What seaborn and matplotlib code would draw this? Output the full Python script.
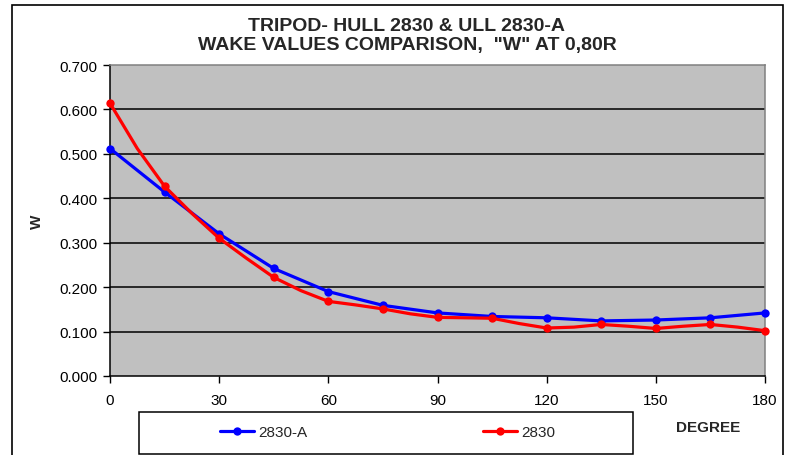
import matplotlib.pyplot as plt
import matplotlib.patches as mpatches
import pandas as pd
import seaborn as sns

sns.set_theme(style="white")
plt.rcParams["font.family"] = ["Liberation Sans", "DejaVu Sans"]

# valores
BLUE_DEG = [0, 15, 30, 45, 60, 75, 90, 105, 120, 135, 150, 165, 180]
BLUE_W = [0.512, 0.414, 0.320, 0.242, 0.190, 0.159, 0.142, 0.134, 0.131, 0.124, 0.126, 0.131, 0.142]

RED_DEG = [0, 7.5, 15, 22.5, 30, 37.5, 45, 52.5, 60, 67.5, 75, 82.5, 90,
           97.5, 105, 112.5, 120, 127.5, 135, 142.5, 150, 157.5, 165, 172.5, 180]
RED_W = [0.614, 0.512, 0.427, 0.366, 0.310, 0.265, 0.222, 0.192, 0.168, 0.160, 0.151, 0.140, 0.132,
         0.131, 0.130, 0.118, 0.108, 0.110, 0.116, 0.112, 0.107, 0.112, 0.116, 0.110, 0.102]

X_TICKS = [0, 30, 60, 90, 120, 150, 180]
Y_TICKS = [0.0, 0.1, 0.2, 0.3, 0.4, 0.5, 0.6, 0.7]

df_blue = pd.DataFrame({"degree": BLUE_DEG, "w": BLUE_W})
df_red = pd.DataFrame({"degree": RED_DEG, "w": RED_W})

fig = plt.figure(figsize=(7.9, 4.56), dpi=100)
ax = fig.add_axes([110 / 790, 1 - 377 / 456, 655 / 790, 311 / 456])
ax.set_facecolor("#C0C0C0")

# moldura externa do gráfico
fig.patches.append(mpatches.Rectangle((12 / 790, -0.05), 771 / 790, 1.05 - 6 / 456,
                                      transform=fig.transFigure, fill=False,
                                      edgecolor="black", linewidth=1.2))

for y in Y_TICKS[1:-1]:
    ax.axhline(y, color="black", linewidth=1.1, zorder=1)

sns.lineplot(data=df_blue, x="degree", y="w", ax=ax, color="#0000FF", linewidth=2.3,
             marker="o", markersize=6, markeredgewidth=0, label="2830-A",
             clip_on=False, zorder=3)
sns.lineplot(data=df_red, x="degree", y="w", ax=ax, color="#FF0000", linewidth=2.3,
             marker="o", markersize=6, markeredgewidth=0, markevery=2, label="2830",
             clip_on=False, zorder=4)

ax.set_xlim(0, 180)
ax.set_ylim(0, 0.7)
ax.set_xticks(X_TICKS)
ax.set_yticks(Y_TICKS)
ax.set_yticklabels([f"{v:.3f}" for v in Y_TICKS])
ax.set_xlabel("")
ax.set_ylabel("")
ax.tick_params(axis="both", direction="out", length=5, width=1, color="black",
               labelsize=11, labelcolor="black", left=True, bottom=True)
ax.tick_params(axis="y", pad=4)
ax.tick_params(axis="x", pad=7)
for side in ["left", "bottom"]:
    ax.spines[side].set_color("black")
    ax.spines[side].set_linewidth(1.1)
for side in ["top", "right"]:
    ax.spines[side].set_color("#808080")
    ax.spines[side].set_linewidth(1.1)

handles, labels = ax.get_legend_handles_labels()
ax.get_legend().remove()

fig.text(407 / 790, 1 - 36 / 456, "TRIPOD- HULL 2830 & ULL 2830-A\nWAKE VALUES COMPARISON,  \"W\" AT 0,80R",
         ha="center", va="center", fontsize=14, fontweight="bold", linespacing=1.1)
fig.text(37 / 790, 1 - 222 / 456, "W", rotation=90, ha="center", va="center",
         fontsize=11, fontweight="bold")
fig.text(708 / 790, 1 - 428 / 456, "DEGREE", ha="center", va="center",
         fontsize=11, fontweight="bold")

# caixa da legenda
fig.patches.append(mpatches.Rectangle((139 / 790, 1 - 455 / 456), 494 / 790, 42 / 456,
                                      transform=fig.transFigure, fill=False,
                                      edgecolor="black", linewidth=1.1))
fig.legend(handles, labels, loc="center", bbox_to_anchor=(388 / 790, 1 - 433 / 456),
           ncol=2, frameon=False, fontsize=11, handlelength=2.2, handletextpad=0.3,
           columnspacing=11.5)

fig.savefig("out.png", dpi=100)
